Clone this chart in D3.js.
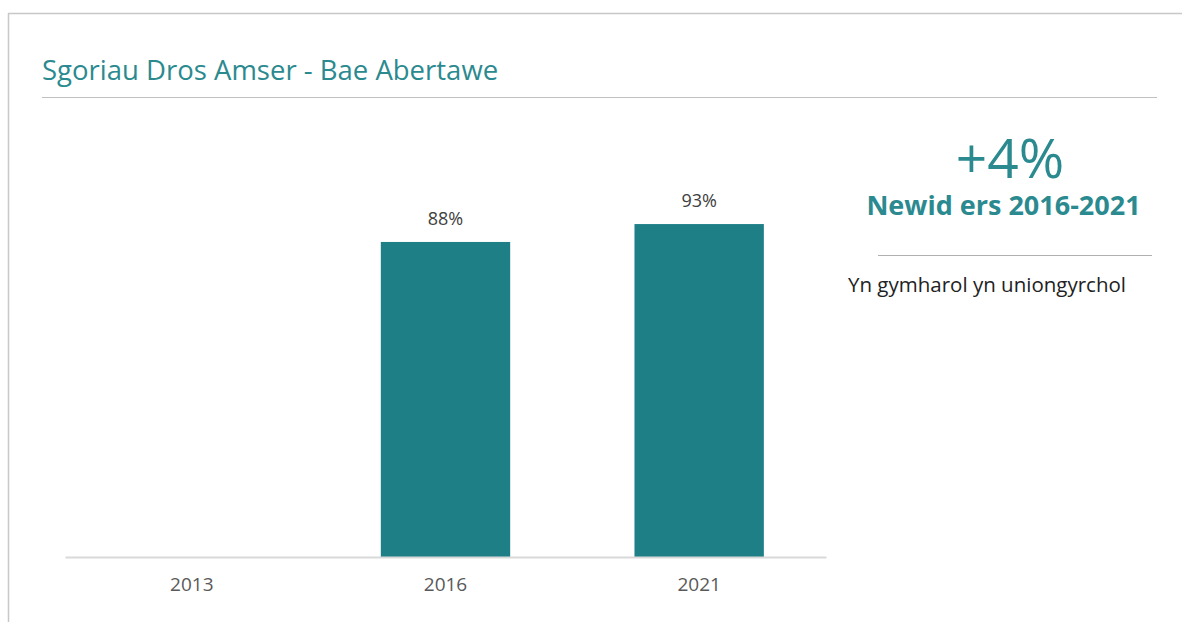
<!DOCTYPE html>
<html><head><meta charset="utf-8">
<script src="https://cdn.jsdelivr.net/npm/d3@7"></script>
<style>
body{margin:0;background:#fff;}
svg{display:block;font-family:"Open Sans",sans-serif;}
</style></head>
<body><svg id="c" width="1182" height="622"></svg>
<script>
const categories = ["2013","2016","2021"];
const values = [null, 88, 93];
const valueLabels = ["", "88%", "93%"];
const title = "Sgoriau Dros Amser - Bae Abertawe";
const bigStat = "+4%";
const statLabel = "Newid ers 2016-2021";
const note = "Yn gymharol yn uniongyrchol";

const svg = d3.select("#c");
const teal = "#1e7f87";
const tealText = "#2b8a8f";

// frame
svg.append("line").attr("x1",8).attr("x2",1182).attr("y1",13.5).attr("y2",13.5).attr("stroke","#c8c8c8").attr("stroke-width",1.5);
svg.append("line").attr("x1",8.5).attr("x2",8.5).attr("y1",13).attr("y2",622).attr("stroke","#c8c8c8").attr("stroke-width",1.5);

svg.append("text").attr("x",42).attr("y",80).attr("font-size",27.5).attr("fill",tealText).text(title);
svg.append("line").attr("x1",42).attr("x2",1157).attr("y1",97.5).attr("y2",97.5).attr("stroke","#c0c0c0").attr("stroke-width",1.2);

const x = d3.scaleBand().domain(categories).range([65,826]).paddingInner(0.49).paddingOuter(0.245);
const y = d3.scaleLinear().domain([0,100]).range([557,199]);

const data = categories.map((c,i)=>({c, v: values[i], l: valueLabels[i]}));

svg.selectAll("rect.bar").data(data.filter(d=>d.v!=null)).enter().append("rect")
  .attr("class","bar").attr("x",d=>x(d.c)).attr("width",x.bandwidth())
  .attr("y",d=>y(d.v)).attr("height",d=>y(0)-y(d.v)).attr("fill",teal);

svg.selectAll("text.vl").data(data.filter(d=>d.v!=null)).enter().append("text")
  .attr("class","vl").attr("x",d=>x(d.c)+x.bandwidth()/2).attr("y",d=>y(d.v)-17)
  .attr("text-anchor","middle").attr("font-size",18).attr("fill","#404040").text(d=>d.l);

const ax = svg.append("g").attr("transform","translate(0,557)").call(d3.axisBottom(x).tickSize(0).tickPadding(21));
ax.select(".domain").attr("stroke","#d9d9d9").attr("stroke-width",2);
ax.selectAll("text").attr("font-size",19).attr("fill","#595959").attr("font-family","'Open Sans',sans-serif");

svg.append("text").attr("x",1010).attr("y",178).attr("text-anchor","middle").attr("font-size",55).attr("fill",tealText).text(bigStat);
svg.append("text").attr("x",1003.5).attr("y",215).attr("text-anchor","middle").attr("font-size",27).attr("font-weight","bold").attr("fill",tealText).text(statLabel);
svg.append("line").attr("x1",878).attr("x2",1152).attr("y1",255.5).attr("y2",255.5).attr("stroke","#b0b0b0").attr("stroke-width",1.2);
svg.append("text").attr("x",848).attr("y",292).attr("font-size",20.5).attr("fill","#222").text(note);
</script></body></html>
